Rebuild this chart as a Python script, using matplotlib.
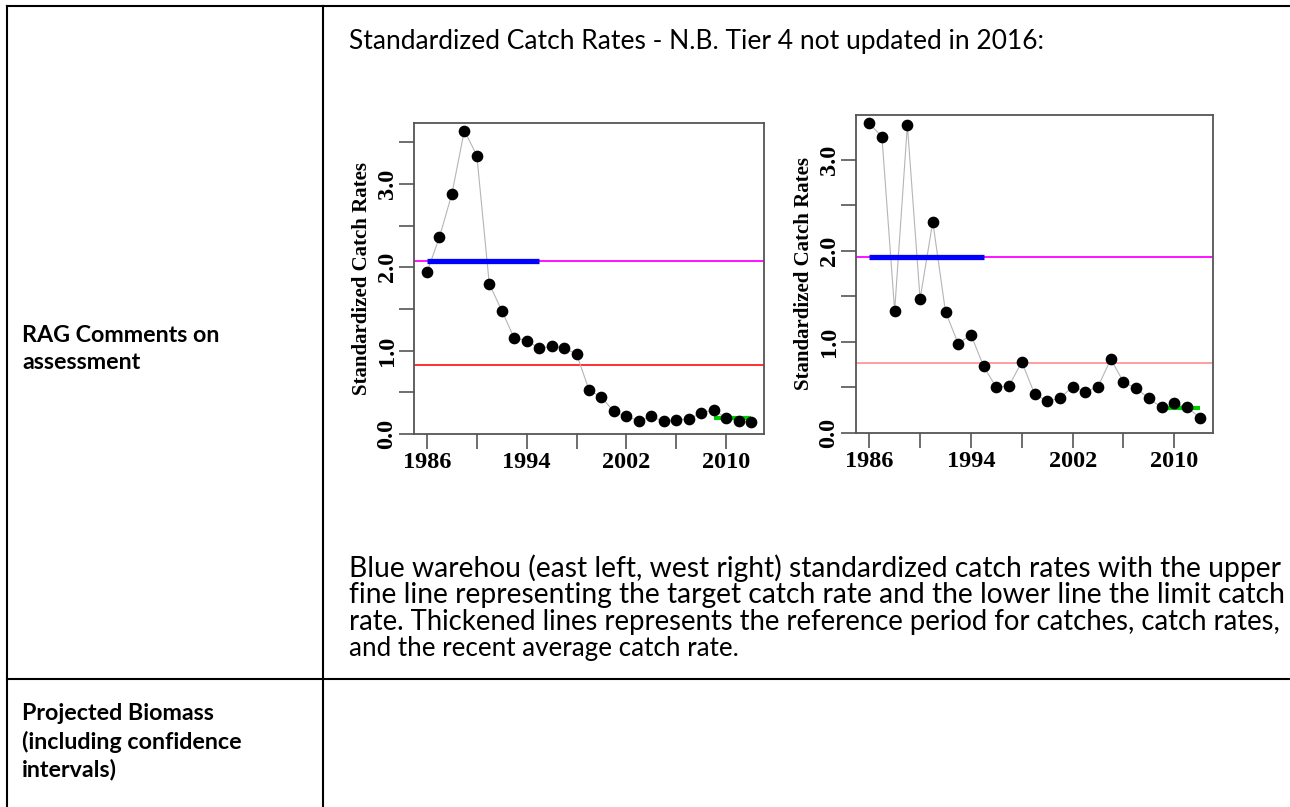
import numpy as np
import matplotlib
matplotlib.use("Agg")
import matplotlib.pyplot as plt
from matplotlib.lines import Line2D

# ---------------- data ----------------
years = list(range(1986, 2013))
east_rates = [1.94, 2.36, 2.88, 3.64, 3.34, 1.80, 1.48, 1.15, 1.12, 1.03,
              1.05, 1.03, 0.96, 0.53, 0.44, 0.27, 0.21, 0.16, 0.21, 0.15,
              0.17, 0.18, 0.25, 0.29, 0.19, 0.16, 0.14]
west_rates = [3.40, 3.25, 1.34, 3.38, 1.47, 2.32, 1.33, 0.98, 1.08, 0.73,
              0.50, 0.52, 0.78, 0.43, 0.35, 0.38, 0.51, 0.45, 0.51, 0.81,
              0.56, 0.49, 0.38, 0.28, 0.33, 0.28, 0.17]
east_target, east_limit = 2.07, 0.83
west_target, west_limit = 1.93, 0.77
ref_period = [1986, 1995]
recent_period = [2009, 2012]
east_recent, west_recent = 0.19, 0.27

x_ticks = [1986, 1990, 1994, 1998, 2002, 2006, 2010]
x_ticklabels = ["1986", "", "1994", "", "2002", "", "2010"]
y_ticklabels = ["0.0", "", "1.0", "", "2.0", "", "3.0", ""]
ylabel = "Standardized Catch Rates"

header_text = "Standardized Catch Rates - N.B. Tier 4 not updated in 2016:"
caption_lines = [
    "Blue warehou (east left, west right) standardized catch rates with the upper",
    "fine line representing the target catch rate and the lower line the limit catch",
    "rate. Thickened lines represents the reference period for catches, catch rates,",
    "and the recent average catch rate.",
]
row1_label = ["RAG Comments on", "assessment"]
row2_label = ["Projected Biomass", "(including confidence", "intervals)"]

# ---------------- figure ----------------
W, H = 1290, 807
fig = plt.figure(figsize=(W / 100, H / 100), dpi=100)
fig.patch.set_facecolor("white")

def fx(x):
    return x / W

def fy(y):
    return 1 - y / H

# table lines
tbl_lw = 1.5
for (x0, y0, x1, y1) in [(7, 6, 1290, 6), (7, 6, 7, 807), (323, 6, 323, 807),
                         (7, 679, 1290, 679)]:
    fig.add_artist(Line2D([fx(x0), fx(x1)], [fy(y0), fy(y1)], color="black",
                          lw=tbl_lw, transform=fig.transFigure))

renderer = fig.canvas.get_renderer()
body_family = ["Lato", "DejaVu Sans"]

def fitted_size(s, target_w, weight="normal"):
    t = fig.text(0, 0, s, fontsize=20, family=body_family, weight=weight)
    w = t.get_window_extent(renderer).width
    t.remove()
    return 20 * target_w / w

def put(x, y, s, fs, weight="normal"):
    return fig.text(fx(x), fy(y), s, fontsize=fs, family=body_family,
                    weight=weight, va="center", ha="left")

put(349, 42, header_text, fitted_size(header_text, 696))
caption_widths = [934, 938, 936, 391]
for i, (line, tw) in enumerate(zip(caption_lines, caption_widths)):
    put(349, 568 + 26.8 * i, line, fitted_size(line, tw))

bold_fs = fitted_size(row2_label[0], 192, weight="bold")
for i, line in enumerate(row1_label):
    put(22, 336 + 26.5 * i, line, bold_fs, weight="bold")
for i, line in enumerate(row2_label):
    put(22, 714 + 28 * i, line, bold_fs, weight="bold")

# ---------------- charts ----------------
serif = ["Liberation Serif", "DejaVu Serif"]

def make_chart(box, rates, target, limit, recent, ylim, limit_color):
    l, t, r, b = box
    ax = fig.add_axes([fx(l), fy(b), (r - l) / W, (b - t) / H])
    ax.plot(years, rates, color="#b5b5b5", lw=0.8, zorder=2)
    ax.axhline(target, color="#ff00ff", lw=1.3, zorder=1)
    ax.axhline(limit, color=limit_color, lw=1.4, zorder=1)
    ax.plot(ref_period, [target, target], color="#0000ff", lw=3.8,
            solid_capstyle="butt", zorder=3)
    ax.plot(recent_period, [recent, recent], color="#00cc00", lw=3.0,
            solid_capstyle="butt", zorder=3)
    ax.plot(years, rates, "o", color="black", ms=7.4, zorder=4)
    ax.set_xlim(1984.96, 2013.04)
    ax.set_ylim(*ylim)
    yt = [v for v in np.arange(0, 3.51, 0.5) if v <= ylim[1]]
    ax.set_yticks(yt)
    ax.set_yticklabels(y_ticklabels[:len(yt)], rotation=90, va="center",
                       family=serif, weight="bold", fontsize=17.5)
    ax.set_xticks(x_ticks)
    ax.set_xticklabels(x_ticklabels, family=serif, weight="bold", fontsize=17.5)
    ax.tick_params(axis="both", length=10.8, width=1.2, color="#555555",
                   direction="out")
    ax.tick_params(axis="y", pad=1)
    ax.tick_params(axis="x", pad=2)
    for sp in ax.spines.values():
        sp.set_color("#555555")
        sp.set_linewidth(1.3)
    ax.set_ylabel(ylabel, family=serif, weight="bold", fontsize=15,
                  labelpad=3)
    return ax

make_chart((414, 123, 764, 434), east_rates, east_target, east_limit,
           east_recent, (0.02, 3.73), "#ff3030")
make_chart((856, 115, 1213, 433), west_rates, west_target, west_limit,
           west_recent, (0.0, 3.49), "#ff9f9f")

fig.savefig("out.png", dpi=100, facecolor="white")
